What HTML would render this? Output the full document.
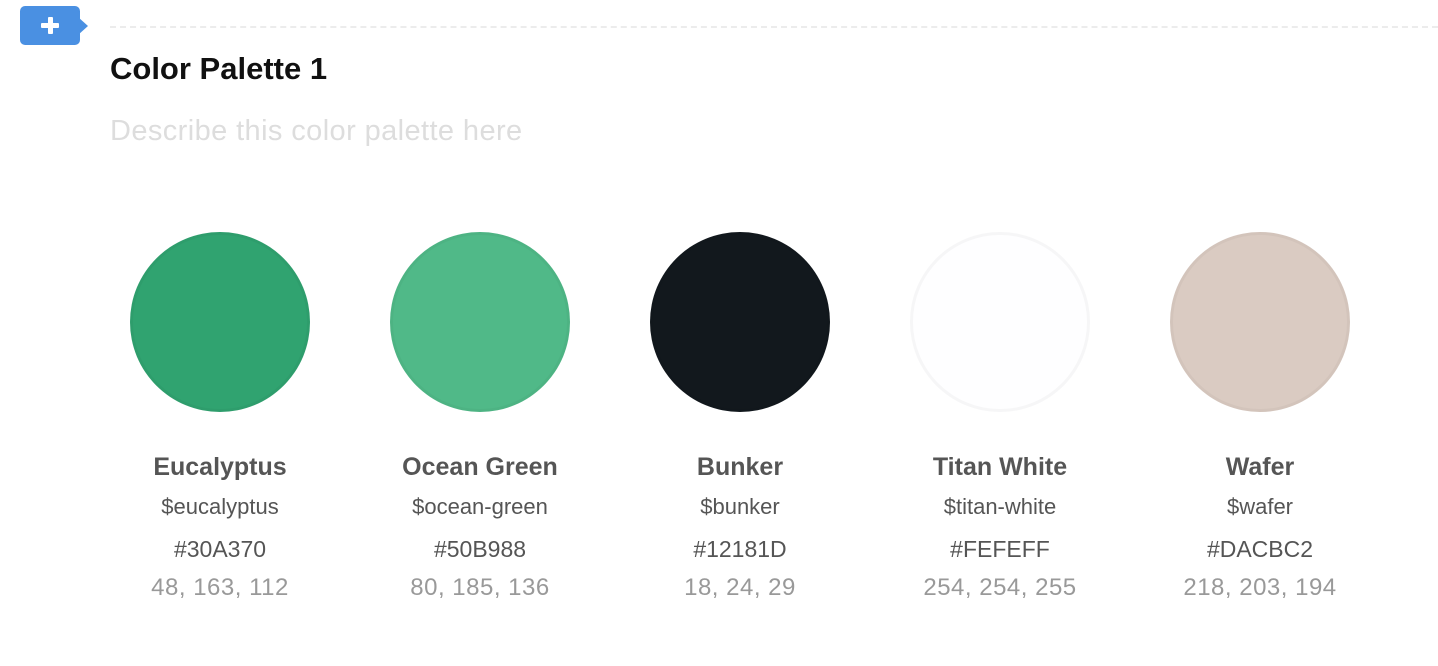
<!DOCTYPE html>
<html><head><meta charset="utf-8"><style>
body{margin:0;width:1438px;height:666px;background:#fff;position:relative;overflow:hidden;font-family:"Liberation Sans",sans-serif}
.abs{position:absolute}
.sw{position:absolute;width:180px;height:180px;border-radius:50%;top:232px;box-sizing:border-box;border:3px solid rgba(0,0,0,0.03)}
.t{position:absolute;width:240px;text-align:center;white-space:nowrap}
.n{font-weight:bold;font-size:25px;color:#555;top:453px}
.v{font-size:22px;color:#555;top:494px}
.h{font-size:23px;color:#555;top:536px}
.r{font-size:24px;color:#999;top:574px;letter-spacing:0.5px}
</style></head><body>
<div class="abs" style="left:20px;top:6px;width:60px;height:39px;background:#4A90E2;border-radius:5px">
 <div class="abs" style="left:58px;top:11px;width:0;height:0;border-top:9px solid transparent;border-bottom:9px solid transparent;border-left:10px solid #4A90E2"></div>
 <div class="abs" style="left:21px;top:17px;width:18px;height:5px;background:#fff;border-radius:1px"></div>
 <div class="abs" style="left:27.5px;top:11px;width:5px;height:17px;background:#fff;border-radius:1px"></div>
</div>
<div class="abs" style="left:110px;top:26px;width:1328px;border-top:2px dashed #ececec"></div>
<div class="abs" style="left:110px;top:51px;font-size:31px;font-weight:bold;color:#111">Color Palette 1</div>
<div class="abs" style="left:110px;top:115px;font-size:29px;color:#ddd;letter-spacing:0.4px">Describe this color palette here</div>

<div class="sw" style="left:130px;background:#30A370"></div>
<div class="sw" style="left:390px;background:#50B988"></div>
<div class="sw" style="left:650px;background:#12181D"></div>
<div class="sw" style="left:910px;background:#FEFEFF"></div>
<div class="sw" style="left:1170px;background:#DACBC2"></div>

<div class="t n" style="left:100px">Eucalyptus</div>
<div class="t v" style="left:100px">$eucalyptus</div>
<div class="t h" style="left:100px">#30A370</div>
<div class="t r" style="left:100px">48, 163, 112</div>

<div class="t n" style="left:360px">Ocean Green</div>
<div class="t v" style="left:360px">$ocean-green</div>
<div class="t h" style="left:360px">#50B988</div>
<div class="t r" style="left:360px">80, 185, 136</div>

<div class="t n" style="left:620px">Bunker</div>
<div class="t v" style="left:620px">$bunker</div>
<div class="t h" style="left:620px">#12181D</div>
<div class="t r" style="left:620px">18, 24, 29</div>

<div class="t n" style="left:880px">Titan White</div>
<div class="t v" style="left:880px">$titan-white</div>
<div class="t h" style="left:880px">#FEFEFF</div>
<div class="t r" style="left:880px">254, 254, 255</div>

<div class="t n" style="left:1140px">Wafer</div>
<div class="t v" style="left:1140px">$wafer</div>
<div class="t h" style="left:1140px">#DACBC2</div>
<div class="t r" style="left:1140px">218, 203, 194</div>
</body></html>
